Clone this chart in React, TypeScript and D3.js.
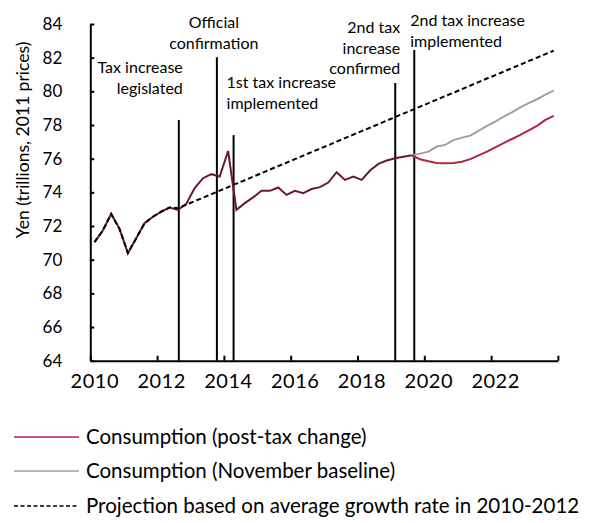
import React, { useEffect, useRef } from 'react';
import * as d3 from 'd3';

// quarterly data, first quarter = 2010Q1
const startYear = 2010;

const historic = [
  71.04, 71.73, 72.72, 71.83, 70.39, 71.28, 72.17, 72.55, 72.85, 73.1,
  72.96, 73.32, 74.25, 74.84, 75.08, 74.94, 76.46, 72.96, 73.36, 73.7,
  74.09, 74.09, 74.29, 73.85, 74.09, 73.95, 74.2, 74.31, 74.58, 75.2,
  74.74, 74.94, 74.74, 75.3, 75.69, 75.89, 76.03, 76.12, 76.2,
];

// both forecasts start at the last historic quarter (2019Q3)
const forecastStart = 38;
const postTax = [
  76.2, 75.97, 75.85, 75.75, 75.73, 75.75, 75.82, 75.97, 76.2, 76.42,
  76.67, 76.92, 77.17, 77.41, 77.68, 77.95, 78.3, 78.54,
];
const baseline = [
  76.2, 76.3, 76.42, 76.72, 76.82, 77.1, 77.25, 77.37, 77.65, 77.95,
  78.2, 78.5, 78.75, 79.05, 79.3, 79.53, 79.8, 80.04,
];

// dashed trend: follows actual data up to 2012Q3, then the projection
const projection = [
  71.04, 71.73, 72.72, 71.83, 70.39, 71.28, 72.17, 72.55, 72.85, 73.1,
  73.06, 73.27, 73.48, 73.68, 73.89, 74.1, 74.31, 74.52, 74.72, 74.93,
  75.14, 75.35, 75.56, 75.76, 75.97, 76.18, 76.39, 76.6, 76.8, 77.01,
  77.22, 77.43, 77.64, 77.84, 78.05, 78.26, 78.47, 78.68, 78.88, 79.09,
  79.3, 79.51, 79.72, 79.92, 80.13, 80.34, 80.55, 80.76, 80.96, 81.17,
  81.38, 81.59, 81.8, 82.0, 82.21, 82.42,
];

// event markers: date (fractional year), height of the marker line, label
const eventDates = [2012.65, 2013.79, 2014.29, 2019.13, 2019.7];
const eventTops = [78.3, 82.02, 77.4, 80.5, 82.46];
const eventLabels = [
  ['Tax increase', 'legislated'],
  ['Official', 'confirmation'],
  ['1st tax increase', 'implemented'],
  ['2nd tax', 'increase', 'confirmed'],
  ['2nd tax increase', 'implemented'],
];

const xTicks = [2010, 2012, 2014, 2016, 2018, 2020, 2022, 2024];
const yTicks = [64, 66, 68, 70, 72, 74, 76, 78, 80, 82, 84];

const legendLabels = [
  'Consumption (post-tax change)',
  'Consumption (November baseline)',
  'Projection based on average growth rate in 2010-2012',
];

const FONT = 'Lato, "Open Sans", sans-serif';
const MAROON = '#6b1a2a';
const RED = '#b3253c';
const GREY = '#a0a0a0';

const App: React.FC = () => {
  const svgRef = useRef<SVGSVGElement | null>(null);

  useEffect(() => {
    document.body.style.margin = '0';
    const width = 590;
    const height = 523;
    const svg = d3.select(svgRef.current);
    svg.selectAll('*').remove();
    svg.attr('width', width).attr('height', height)
      .style('font-family', FONT);

    const x = d3.scaleLinear().domain([2010, 2024]).range([90.3, 557.9]);
    const y = d3.scaleLinear().domain([64, 84]).range([360.7, 24]);

    const qx = (i: number) => x(startYear + (i + 0.5) / 4);

    const line = (offset: number) => d3.line<number>()
      .x((_, i) => qx(i + offset))
      .y(d => y(d));

    // event lines
    svg.append('g')
      .selectAll('line')
      .data(eventDates)
      .join('line')
      .attr('x1', d => x(d))
      .attr('x2', d => x(d))
      .attr('y1', y(64))
      .attr('y2', (_, i) => y(eventTops[i]))
      .attr('stroke', '#000')
      .attr('stroke-width', 2);

    // series
    svg.append('path')
      .attr('d', line(0)(historic))
      .attr('fill', 'none')
      .attr('stroke', MAROON)
      .attr('stroke-width', 2);

    svg.append('path')
      .attr('d', line(forecastStart)(baseline))
      .attr('fill', 'none')
      .attr('stroke', GREY)
      .attr('stroke-width', 2);

    svg.append('path')
      .attr('d', line(forecastStart)(postTax))
      .attr('fill', 'none')
      .attr('stroke', RED)
      .attr('stroke-width', 2);

    svg.append('path')
      .attr('d', line(0)(projection))
      .attr('fill', 'none')
      .attr('stroke', '#000')
      .attr('stroke-width', 2)
      .attr('stroke-dasharray', '5,3');

    // x axis
    svg.append('g')
      .attr('transform', `translate(0,${y(64)})`)
      .call(d3.axisBottom(x)
        .tickValues(xTicks)
        .tickSizeInner(-5)
        .tickSizeOuter(0)
        .tickPadding(13)
        .tickFormat(d => (+d === 2024 ? '' : String(d))))
      .call(g => g.select('.domain').attr('stroke-width', 2))
      .call(g => g.selectAll('.tick line').attr('stroke-width', 2))
      .call(g => g.selectAll('.tick text')
        .attr('dx', 4)
        .attr('fill', '#000')
        .style('font-family', FONT)
        .style('font-size', '20px')
        .style('letter-spacing', '0.5px'));

    // y axis
    svg.append('g')
      .attr('transform', `translate(${x(2010)},0)`)
      .call(d3.axisLeft(y)
        .tickValues(yTicks)
        .tickSizeInner(-4)
        .tickSizeOuter(0)
        .tickPadding(28))
      .call(g => g.select('.domain').attr('stroke-width', 2))
      .call(g => g.selectAll('.tick line').attr('stroke-width', 2))
      .call(g => g.selectAll('.tick text')
        .attr('fill', '#000')
        .style('font-family', FONT)
        .style('font-size', '17px'));

    svg.append('text')
      .attr('transform', 'translate(29,140) rotate(-90)')
      .attr('text-anchor', 'middle')
      .style('font-size', '17.5px')
      .text('Yen (trillions, 2011 prices)');

    // event labels
    const labelPos = [
      { dx: 4, y: 73, anchor: 'end' },
      { dx: -3, y: 28, anchor: 'middle' },
      { dx: -7, y: 88, anchor: 'start' },
      { dx: 5, y: 33, anchor: 'end' },
      { dx: -4, y: 26, anchor: 'start' },
    ];
    eventLabels.forEach((lines, i) => {
      const p = labelPos[i];
      const t = svg.append('text')
        .attr('text-anchor', p.anchor)
        .style('font-size', '16px');
      lines.forEach((s, j) => {
        t.append('tspan')
          .attr('x', x(eventDates[i]) + p.dx)
          .attr('y', p.y + j * 20.5)
          .text(s);
      });
    });

    // legend
    const legendY = [437, 471, 506];
    const legendStroke = [RED, GREY, '#000'];
    const lg = svg.append('g');
    legendLabels.forEach((s, i) => {
      lg.append('line')
        .attr('x1', 14)
        .attr('x2', 79)
        .attr('y1', legendY[i])
        .attr('y2', legendY[i])
        .attr('stroke', legendStroke[i])
        .attr('stroke-width', 1.5)
        .attr('stroke-dasharray', i === 2 ? '4,2.5' : null);
      lg.append('text')
        .attr('x', 86)
        .attr('y', legendY[i] + 7)
        .style('font-size', '20.5px')
        .text(s);
    });
  }, []);

  return <svg ref={svgRef}></svg>;
};

export default App;
